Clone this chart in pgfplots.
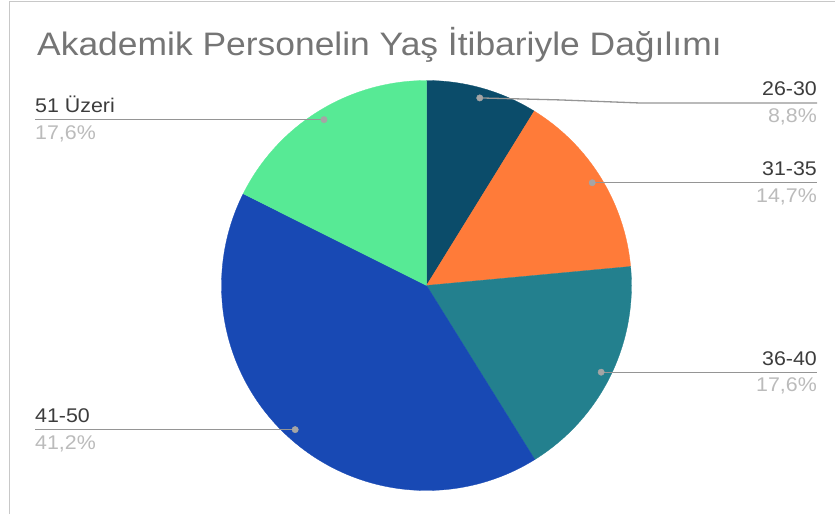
\documentclass[border=0pt]{standalone}
\usepackage{pgfplots}
\pgfplotsset{compat=1.18}
\usepackage{fontspec}
\setmainfont{Liberation Sans}
\newfontfamily\tfont[FakeStretch=1.09]{Liberation Sans}
\newfontfamily\lfont[FakeStretch=1.08]{Liberation Sans}
\definecolor{cA}{HTML}{0B4C6A}
\definecolor{cB}{HTML}{FF7B39}
\definecolor{cC}{HTML}{23808E}
\definecolor{cD}{HTML}{1849B4}
\definecolor{cE}{HTML}{57EA95}
\definecolor{titlec}{HTML}{757575}
\definecolor{lblc}{HTML}{3C3C3C}
\definecolor{pctc}{HTML}{BBBBBB}
\definecolor{linec}{HTML}{959595}
\definecolor{framec}{HTML}{C8C8C8}
\begin{document}
\begin{tikzpicture}
% data: shares in percent (26-30, 31-35, 36-40, 41-50, 51 Uzeri)
\def\pA{8.8}\def\pB{14.7}\def\pC{17.6}\def\pD{41.2}\def\pE{17.6}
\def\cx{426.5}\def\cy{228.5}\def\R{205}\def\Rd{195}
\pgfmathsetmacro\tot{\pA+\pB+\pC+\pD+\pE}
\pgfmathsetmacro\k{360/\tot}
\pgfmathsetmacro\aA{90}
\pgfmathsetmacro\aB{90-\k*(\pA)}
\pgfmathsetmacro\aC{90-\k*(\pA+\pB)}
\pgfmathsetmacro\aD{90-\k*(\pA+\pB+\pC)}
\pgfmathsetmacro\aE{90-\k*(\pA+\pB+\pC+\pD)}
\pgfmathsetmacro\aF{-270}
% dot positions at slice middles
\pgfmathsetmacro\xA{\cx+\Rd*cos((\aA+\aB)/2)}\pgfmathsetmacro\yA{\cy+\Rd*sin((\aA+\aB)/2)}
\pgfmathsetmacro\xB{\cx+\Rd*cos((\aB+\aC)/2)}\pgfmathsetmacro\yB{\cy+\Rd*sin((\aB+\aC)/2)}
\pgfmathsetmacro\xC{\cx+\Rd*cos((\aC+\aD)/2)}\pgfmathsetmacro\yC{\cy+\Rd*sin((\aC+\aD)/2)}
\pgfmathsetmacro\xD{\cx+\Rd*cos((\aD+\aE)/2)}\pgfmathsetmacro\yD{\cy+\Rd*sin((\aD+\aE)/2)}
\pgfmathsetmacro\xE{\cx+\Rd*cos((\aE+\aF)/2)}\pgfmathsetmacro\yE{\cy+\Rd*sin((\aE+\aF)/2)}
\pgfmathsetmacro\yAl{411}
\pgfmathsetmacro\yAm{\yA-2}
\pgfmathsetmacro\tA{\yAl+7}\pgfmathsetmacro\qA{\yAl-19.5}
\pgfmathsetmacro\tB{\yB+7}\pgfmathsetmacro\qB{\yB-19.5}
\pgfmathsetmacro\tC{\yC+7}\pgfmathsetmacro\qC{\yC-19.5}
\pgfmathsetmacro\tD{\yD+7}\pgfmathsetmacro\qD{\yD-19.5}
\pgfmathsetmacro\tE{\yE+7}\pgfmathsetmacro\qE{\yE-19.5}
\begin{axis}[width=835pt,height=514pt,scale only axis,
  xmin=0,xmax=835,ymin=0,ymax=514,hide axis,clip=false]
% frame
\addplot[framec, line width=1pt] coordinates {(9.5,0) (9.5,512.5) (835,512.5)};
% slices
\addplot[fill=cA, draw=cA, line width=0.3pt, domain=\aB:\aA, samples=40] ({\cx+\R*cos(x)},{\cy+\R*sin(x)}) -- (\cx,\cy) -- cycle;
\addplot[fill=cB, draw=cB, line width=0.3pt, domain=\aC:\aB, samples=50] ({\cx+\R*cos(x)},{\cy+\R*sin(x)}) -- (\cx,\cy) -- cycle;
\addplot[fill=cC, draw=cC, line width=0.3pt, domain=\aD:\aC, samples=60] ({\cx+\R*cos(x)},{\cy+\R*sin(x)}) -- (\cx,\cy) -- cycle;
\addplot[fill=cD, draw=cD, line width=0.3pt, domain=\aE:\aD, samples=120] ({\cx+\R*cos(x)},{\cy+\R*sin(x)}) -- (\cx,\cy) -- cycle;
\addplot[fill=cE, draw=cE, line width=0.3pt, domain=\aF:\aE, samples=60] ({\cx+\R*cos(x)},{\cy+\R*sin(x)}) -- (\cx,\cy) -- cycle;
% leader lines
\addplot[linec, line width=1.3pt] coordinates {(\xA,\yA) (560,\yAm) (640,\yAl) (817,\yAl)};
\addplot[linec, line width=1.3pt] coordinates {(\xB,\yB) (817,\yB)};
\addplot[linec, line width=1.3pt] coordinates {(\xC,\yC) (817,\yC)};
\addplot[linec, line width=1.3pt] coordinates {(35,\yD) (\xD,\yD)};
\addplot[linec, line width=1.3pt] coordinates {(35,\yE) (\xE,\yE)};
\addplot[only marks, mark=*, mark size=3.2pt, color=linec!85] coordinates {(\xA,\yA) (\xB,\yB) (\xC,\yC) (\xD,\yD) (\xE,\yE)};
% title
\node[anchor=base west, text=titlec, inner sep=0pt] at (37,458) {\fontsize{32.5}{36}\tfont Akademik Personelin Yaş İtibariyle Dağılımı};
% labels
\node[anchor=base east, text=lblc, inner sep=0pt] at (817,\tA) {\fontsize{19.8}{22}\lfont 26-30};
\node[anchor=base east, text=pctc, inner sep=0pt] at (817,\qA) {\fontsize{19.8}{22}\lfont 8,8\%};
\node[anchor=base east, text=lblc, inner sep=0pt] at (817,\tB) {\fontsize{19.8}{22}\lfont 31-35};
\node[anchor=base east, text=pctc, inner sep=0pt] at (817,\qB) {\fontsize{19.8}{22}\lfont 14,7\%};
\node[anchor=base east, text=lblc, inner sep=0pt] at (817,\tC) {\fontsize{19.8}{22}\lfont 36-40};
\node[anchor=base east, text=pctc, inner sep=0pt] at (817,\qC) {\fontsize{19.8}{22}\lfont 17,6\%};
\node[anchor=base west, text=lblc, inner sep=0pt] at (35,\tD) {\fontsize{19.8}{22}\lfont 41-50};
\node[anchor=base west, text=pctc, inner sep=0pt] at (35,\qD) {\fontsize{19.8}{22}\lfont 41,2\%};
\node[anchor=base west, text=lblc, inner sep=0pt] at (35,\tE) {\fontsize{19.8}{22}\lfont 51 Üzeri};
\node[anchor=base west, text=pctc, inner sep=0pt] at (35,\qE) {\fontsize{19.8}{22}\lfont 17,6\%};
\end{axis}
\pgfresetboundingbox
\path[use as bounding box] (current axis.south west) rectangle (current axis.north east);
\end{tikzpicture}
\end{document}
